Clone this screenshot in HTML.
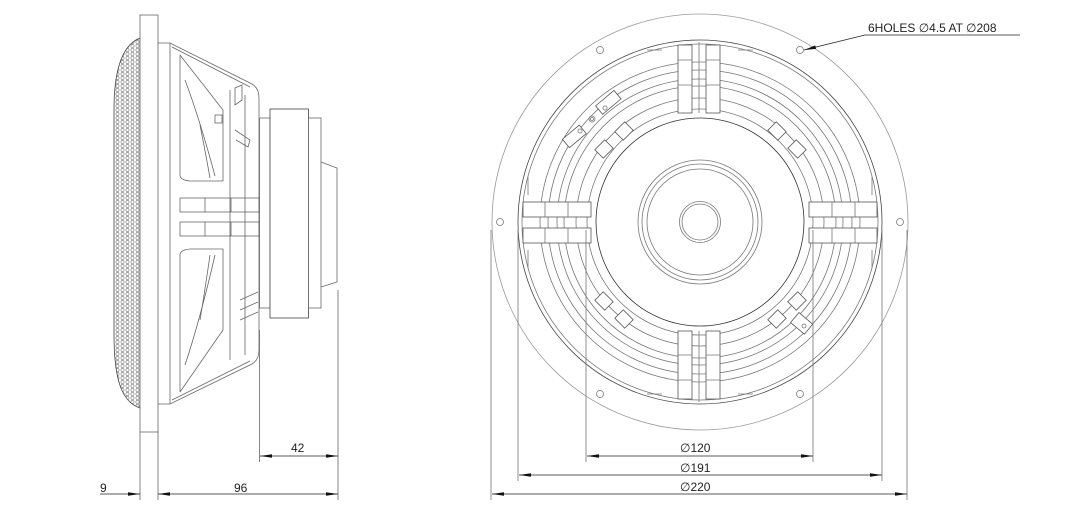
<!DOCTYPE html>
<html><head><meta charset="utf-8"><style>
html,body{margin:0;padding:0;background:#fff;width:1066px;height:510px;overflow:hidden}
svg text{font-family:"Liberation Sans",sans-serif;font-size:12px;fill:#222}
</style></head><body>
<svg width="1066" height="510" viewBox="0 0 1066 510" xmlns="http://www.w3.org/2000/svg">
<defs>
<pattern id="mesh" width="5" height="4" patternUnits="userSpaceOnUse">
<rect width="5" height="4" fill="#fff"/>
<circle cx="2.5" cy="2" r="1.6" fill="none" stroke="#777" stroke-width="0.6"/>
</pattern>
<marker id="ar" markerWidth="12" markerHeight="6" refX="12" refY="3" orient="auto" markerUnits="userSpaceOnUse">
<path d="M0,1.2 L12,3 L0,4.8 Z" fill="#111"/></marker>
</defs>
<g fill="none" stroke="#666" stroke-width="0.8">
<!-- SIDE VIEW -->
<path d="M140,38 C122,45 114,70 114,110 L114,335 C114,380 122,402 140,408 Z" fill="url(#mesh)" stroke="#444"/>
<rect x="140" y="15" width="18" height="417" fill="#fff"/>
<path d="M158,43 L170,43 L252,84 Q259,88 259,98 L259,350 Q259,360 252,364 L170,404 L158,404"/>
<line x1="170" y1="43" x2="170" y2="404"/>
<path d="M172,47 L250,87 M172,400 L250,361"/>
<path d="M180,55 L180,175 Q180,180 190,181 L223,181 L223,110 L180,55"/>
<path d="M180,392 L180,255 Q180,250 190,249 L223,249 L223,330 L180,392"/>
<path d="M185,80 Q200,120 215,176 M185,365 Q200,320 215,255"/>
<path d="M200,125 Q205,150 210,178 M200,320 Q205,290 210,255"/>
<line x1="230" y1="90" x2="230" y2="360"/>
<line x1="245" y1="95" x2="245" y2="355"/>
<path d="M235,88 L242,85 L242,100 L235,105 Z M235,130 L250,140 L248,147 L236,140"/>
<rect x="215" y="115" width="7" height="8"/>
<rect x="180" y="198" width="79" height="14"/><rect x="180" y="222" width="79" height="14"/>
<line x1="205" y1="198" x2="205" y2="212"/><line x1="205" y1="222" x2="205" y2="236"/>
<line x1="231" y1="198" x2="231" y2="212"/><line x1="231" y1="222" x2="231" y2="236"/>
<path d="M240,300 L258,292 M240,310 L258,302 M240,320 L258,312"/>
<rect x="259.5" y="118" width="10.5" height="190" fill="#fff"/>
<rect x="270" y="109" width="38.5" height="209" fill="#fff" stroke="#444"/>
<rect x="308.5" y="118" width="12.5" height="190" fill="#fff"/>
<path d="M321,162 L337,168 L337,282 L321,287"/>
<!-- side dims -->
<line x1="140" y1="432" x2="140" y2="500"/><line x1="158" y1="432" x2="158" y2="500"/>
<line x1="259.5" y1="330" x2="259.5" y2="462"/><line x1="338" y1="290" x2="338" y2="500"/>
</g>
<g stroke="#222" stroke-width="0.8" fill="none">
<line x1="300" y1="456" x2="260" y2="456" marker-end="url(#ar)"/>
<line x1="300" y1="456" x2="338" y2="456" marker-end="url(#ar)"/>
<line x1="100" y1="494" x2="140" y2="494" marker-end="url(#ar)"/>
<line x1="250" y1="494" x2="158" y2="494" marker-end="url(#ar)"/>
<line x1="250" y1="494" x2="338" y2="494" marker-end="url(#ar)"/>
</g>
<text x="291" y="452">42</text>
<text x="100" y="492">9</text>
<text x="234" y="492">96</text>

<!-- FRONT VIEW -->
<g fill="none" stroke="#777" stroke-width="0.8">
<circle cx="700" cy="222" r="208" stroke="#999"/>
<circle cx="700" cy="222" r="182" stroke="#444"/>
<circle cx="700" cy="222" r="178"/>
<circle cx="700" cy="222" r="160"/>
<circle cx="700" cy="222" r="152"/>
<circle cx="700" cy="222" r="143"/>
<circle cx="700" cy="222" r="136"/>
<circle cx="700" cy="222" r="124"/>
<circle cx="700" cy="222" r="113"/>
<circle cx="700" cy="222" r="104" stroke="#333"/>
<circle cx="700" cy="222" r="62"/>
<circle cx="700" cy="222" r="58"/>
<circle cx="700" cy="222" r="53"/>
<circle cx="700" cy="222" r="20.5"/>
<circle cx="700" cy="222" r="18"/>
<!-- holes -->
<circle cx="500" cy="222" r="3.5"/><circle cx="900" cy="222" r="3.5"/>
<circle cx="600" cy="50" r="3.5"/><circle cx="800" cy="50" r="3.5"/>
<circle cx="600" cy="394" r="3.5"/><circle cx="800" cy="394" r="3.5"/>
<!-- spokes -->
<g fill="#fff" stroke="#555">
<rect x="678" y="45" width="14" height="68"/><rect x="706" y="45" width="14" height="68"/>
<rect x="678" y="331" width="14" height="68"/><rect x="706" y="331" width="14" height="68"/>
<rect x="523" y="202" width="68" height="15"/><rect x="523" y="228" width="68" height="15"/>
<rect x="809" y="202" width="68" height="15"/><rect x="809" y="228" width="68" height="15"/>
</g>
<line x1="699" y1="42" x2="699" y2="113"/><line x1="699" y1="331" x2="699" y2="402"/>
<path d="M678,60 h14 M678,85 h14 M706,60 h14 M706,85 h14 M678,355 h14 M678,380 h14 M706,355 h14 M706,380 h14"/>
<path d="M545,202 v15 M568,202 v15 M545,228 v15 M568,228 v15 M832,202 v15 M855,202 v15 M832,228 v15 M855,228 v15"/>
<path d="M528,195 v-18 M528,250 v18 M872,195 v-18 M872,250 v18 M662,50 h-15 M738,50 h15 M662,394 h-15 M738,394 h15"/>
<!-- tabs -->
<g fill="#fff" stroke="#555">
<rect x="617" y="125" width="14" height="12" transform="rotate(-45 624 131)"/>
<rect x="597" y="143" width="14" height="12" transform="rotate(-45 604 149)"/>
<rect x="770" y="125" width="14" height="12" transform="rotate(45 777 131)"/>
<rect x="790" y="143" width="14" height="12" transform="rotate(45 797 149)"/>
<rect x="597" y="295" width="14" height="12" transform="rotate(45 604 301)"/>
<rect x="617" y="313" width="14" height="12" transform="rotate(45 624 319)"/>
<rect x="770" y="313" width="14" height="12" transform="rotate(-45 777 319)"/>
<rect x="790" y="295" width="14" height="12" transform="rotate(-45 797 301)"/>
<rect x="563" y="131" width="22" height="11" transform="rotate(-40 574 136)"/>
<rect x="596" y="97" width="24" height="11" transform="rotate(-40 608 102)"/>
<rect x="793" y="317" width="18" height="13" transform="rotate(40 802 323)"/>
</g>
<circle cx="592" cy="119" r="3"/><circle cx="592" cy="119" r="1.5"/>
<circle cx="580" cy="131" r="2"/><circle cx="605" cy="108" r="2"/><circle cx="804" cy="326" r="2"/>
<!-- ext lines -->
<line x1="586" y1="230" x2="586" y2="462"/><line x1="813" y1="230" x2="813" y2="462"/>
<line x1="518" y1="230" x2="518" y2="481"/><line x1="882" y1="230" x2="882" y2="481"/>
<line x1="491" y1="230" x2="491" y2="500"/><line x1="907" y1="230" x2="907" y2="500"/>
</g>
<g stroke="#222" stroke-width="0.8" fill="none">
<line x1="700" y1="456" x2="587" y2="456" marker-end="url(#ar)"/>
<line x1="700" y1="456" x2="813" y2="456" marker-end="url(#ar)"/>
<line x1="700" y1="475" x2="519" y2="475" marker-end="url(#ar)"/>
<line x1="700" y1="475" x2="882" y2="475" marker-end="url(#ar)"/>
<line x1="700" y1="494" x2="492" y2="494" marker-end="url(#ar)"/>
<line x1="700" y1="494" x2="907" y2="494" marker-end="url(#ar)"/>
<path d="M1020,35 L865,35 L804,50" marker-end="url(#ar)"/>
</g>
<text x="680" y="452">∅120</text>
<text x="680" y="472">∅191</text>
<text x="680" y="491">∅220</text>
<text x="868" y="32">6HOLES ∅4.5 AT ∅208</text>
</svg>
</body></html>
